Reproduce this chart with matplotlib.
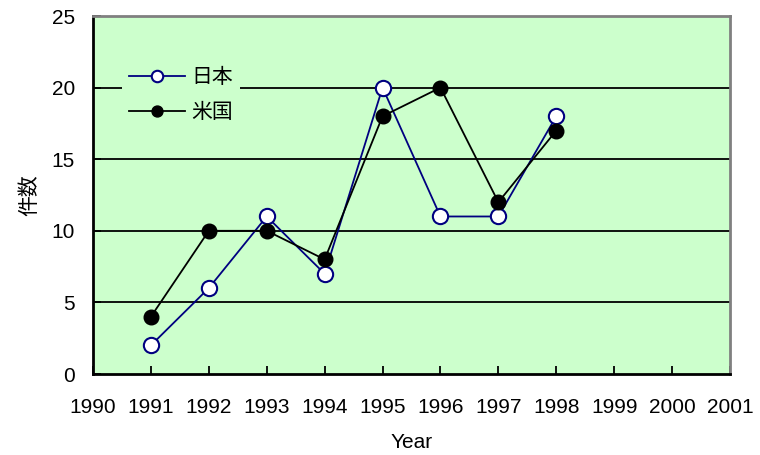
import matplotlib
matplotlib.use("Agg")
import matplotlib.pyplot as plt

years = [1991, 1992, 1993, 1994, 1995, 1996, 1997, 1998]
japan = [2, 6, 11, 7, 20, 11, 11, 18]
usa = [4, 10, 10, 8, 18, 20, 12, 17]
x_ticks = list(range(1990, 2002))
y_ticks = [0, 5, 10, 15, 20, 25]
series_labels = ["日本", "米国"]

plt.rcParams["font.family"] = ["Liberation Sans", "Noto Sans CJK JP", "DejaVu Sans"]

fig = plt.figure(figsize=(7.6, 4.55), dpi=100)
ax = fig.add_axes([93 / 760, 1 - 374 / 455, 637 / 760, 358 / 455])
ax.set_facecolor("#CCFFCC")

for y in y_ticks[1:-1]:
    ax.axhline(y, color="black", lw=1.3, zorder=1)

ax.plot(years, japan, color="#000080", lw=1.3, marker="o", ms=11,
        mfc="white", mec="#000080", mew=1.5, label=series_labels[0], zorder=3)
ax.plot(years, usa, color="black", lw=1.3, marker="o", ms=10.5,
        mfc="black", mec="black", label=series_labels[1], zorder=3)

ax.set_xlim(1990, 2001)
ax.set_ylim(0, 25)
ax.set_xticks(x_ticks)
ax.set_yticks(y_ticks)
ax.tick_params(axis="both", direction="in", length=6, width=1.3,
               labelsize=15, colors="black")
ax.tick_params(axis="x", pad=17)
ax.tick_params(axis="y", pad=13)

for side in ["left", "bottom"]:
    ax.spines[side].set_color("black")
    ax.spines[side].set_linewidth(2)
for side in ["top", "right"]:
    ax.spines[side].set_color("#808080")
    ax.spines[side].set_linewidth(2)

ax.set_xlabel("Year", fontsize=15, labelpad=12)
ax.set_ylabel("件数", fontsize=15, labelpad=9)

leg = ax.legend(loc="upper left", bbox_to_anchor=(0.045, 0.875),
                fontsize=15, frameon=True, fancybox=False, framealpha=1,
                facecolor="#CCFFCC", edgecolor="none", markerscale=0.75,
                handlelength=2.7, handletextpad=0.3, labelspacing=0.75,
                borderpad=0.35, borderaxespad=0)
leg.set_zorder(4)

fig.savefig("out.png", dpi=100)
